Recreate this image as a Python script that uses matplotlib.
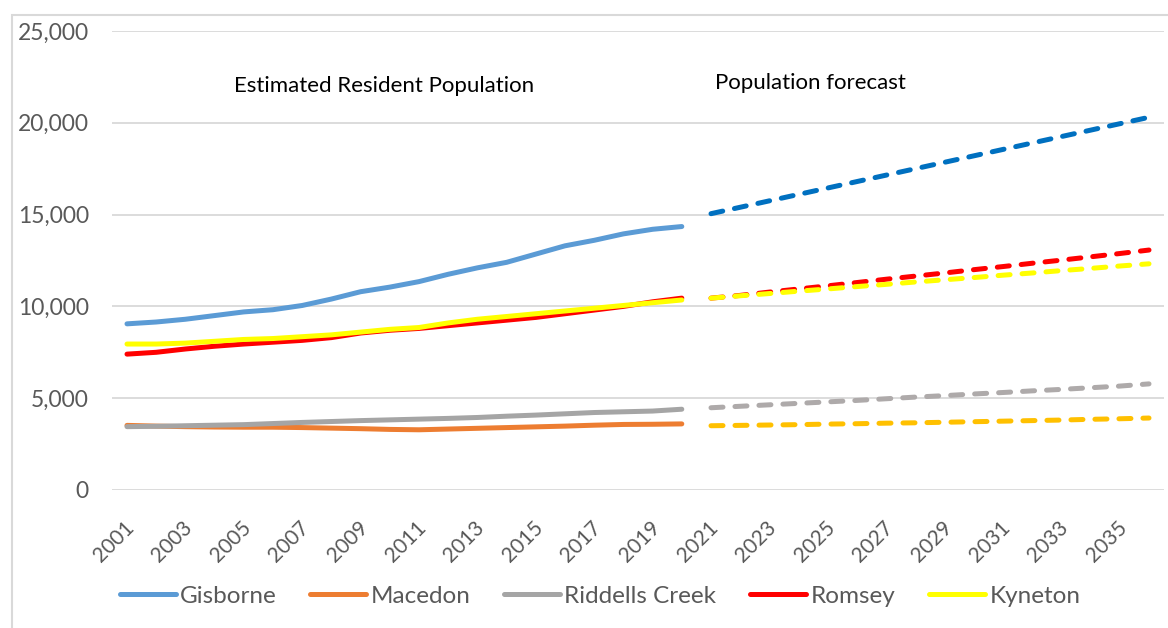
import matplotlib
matplotlib.use("Agg")
import matplotlib.pyplot as plt
from matplotlib.lines import Line2D
from matplotlib.patches import Rectangle
from matplotlib.ticker import FuncFormatter, MultipleLocator
import matplotlib.transforms as mtransforms

plt.rcParams['font.family'] = ['Lato', 'DejaVu Sans']

# Estimated resident population, 2001-2020
erp_years = list(range(2001, 2021))
gisborne_erp = [9050, 9150, 9300, 9500, 9700, 9820, 10050, 10400, 10800, 11050,
                11350, 11750, 12100, 12400, 12850, 13300, 13600, 13950, 14200, 14350]
macedon_erp = [3520, 3480, 3450, 3430, 3420, 3420, 3400, 3370, 3340, 3300,
               3280, 3320, 3360, 3400, 3440, 3480, 3530, 3570, 3580, 3600]
riddells_erp = [3450, 3470, 3500, 3530, 3560, 3620, 3680, 3730, 3780, 3820,
                3860, 3900, 3950, 4020, 4080, 4150, 4220, 4260, 4300, 4400]
romsey_erp = [7400, 7500, 7680, 7830, 7950, 8050, 8150, 8300, 8550, 8700,
              8800, 8950, 9100, 9250, 9400, 9600, 9800, 10000, 10250, 10450]
kyneton_erp = [7950, 7950, 8000, 8100, 8200, 8250, 8350, 8450, 8600, 8750,
               8850, 9100, 9300, 9450, 9600, 9750, 9900, 10050, 10200, 10350]

# Population forecast, 2021-2036
fc_years = list(range(2021, 2037))
gisborne_fc = [15050, 15400, 15750, 16100, 16450, 16800, 17150, 17500,
               17850, 18200, 18550, 18900, 19250, 19600, 19950, 20300]
macedon_fc = [3500, 3520, 3540, 3560, 3590, 3610, 3640, 3660,
              3690, 3720, 3750, 3780, 3810, 3850, 3880, 3920]
riddells_fc = [4480, 4560, 4640, 4720, 4800, 4880, 4970, 5060,
               5140, 5230, 5310, 5400, 5480, 5570, 5660, 5780]
romsey_fc = [10450, 10600, 10780, 10950, 11120, 11300, 11480, 11650,
             11820, 12000, 12170, 12350, 12520, 12700, 12880, 13070]
kyneton_fc = [10450, 10580, 10700, 10830, 10950, 11080, 11200, 11330,
              11450, 11570, 11700, 11820, 11950, 12070, 12200, 12320]

tick_years = list(range(2001, 2036, 2))

W, H = 1168, 628
fig = plt.figure(figsize=(W / 100, H / 100), dpi=100)
fig.patch.set_facecolor('white')

# chart frame
fig.add_artist(Rectangle((12 / W, -0.1), 1.2, (H - 15) / H + 0.1,
                         transform=fig.transFigure, fill=False,
                         edgecolor='#d9d9d9', linewidth=1.5))

ax = fig.add_axes([112.4 / W, 1 - 490 / H, (1163.6 - 112.4) / W, (490 - 31) / H])
ax.set_xlim(2000.5, 2036.5)
ax.set_ylim(0, 25000)

lw = 3.6
series = [
    ('Gisborne', gisborne_erp, gisborne_fc, '#5B9BD5', '#0070C0'),
    ('Macedon', macedon_erp, macedon_fc, '#ED7D31', '#FFC000'),
    ('Riddells Creek', riddells_erp, riddells_fc, '#A5A5A5', '#AEAAAA'),
    ('Romsey', romsey_erp, romsey_fc, '#FF0000', '#FF0000'),
    ('Kyneton', kyneton_erp, kyneton_fc, '#FFFF00', '#FFFF00'),
]
handles = []
for name, erp, fc, c_solid, c_dash in series:
    ax.plot(erp_years, erp, color=c_solid, lw=lw, solid_capstyle='round',
            solid_joinstyle='round', zorder=3)
    ax.plot(fc_years, fc, color=c_dash, lw=lw, dashes=(2.4, 2.4),
            dash_capstyle='round', zorder=3)
    handles.append(Line2D([0], [0], color=c_solid, lw=lw, solid_capstyle='round'))

ax.yaxis.set_major_locator(MultipleLocator(5000))
ax.yaxis.grid(True, color='#d9d9d9', linewidth=1.3)
ax.set_axisbelow(True)
for s in ax.spines.values():
    s.set_visible(False)
ax.yaxis.set_major_formatter(FuncFormatter(lambda v, p: f'{int(v):,}'))
ax.tick_params(axis='y', length=0, pad=17, labelsize=16.5, labelcolor='#595959')

ax.set_xticks(tick_years)
ax.set_xticklabels([str(y) for y in tick_years], rotation=45, ha='right',
                   va='center', rotation_mode='anchor', fontsize=15, color='#595959')
ax.tick_params(axis='x', length=0, pad=0)
offset = mtransforms.ScaledTranslation(4 / 100, -34 / 100, fig.dpi_scale_trans)
for lab in ax.get_xticklabels():
    lab.set_transform(lab.get_transform() + offset)

ax.text(2004.65, 22000, 'Estimated Resident Population', fontsize=16, color='black',
        ha='left', va='center')
ax.text(2021.15, 22150, 'Population forecast', fontsize=16, color='black',
        ha='left', va='center')

fig.legend(handles, [s[0] for s in series], loc='center', ncol=5,
           bbox_to_anchor=(600 / W, 1 - 596 / H), frameon=False,
           fontsize=17.5, labelcolor='#595959', handlelength=2.3,
           handletextpad=0.17, columnspacing=1.4)

fig.savefig('out.png', dpi=100, facecolor='white')
